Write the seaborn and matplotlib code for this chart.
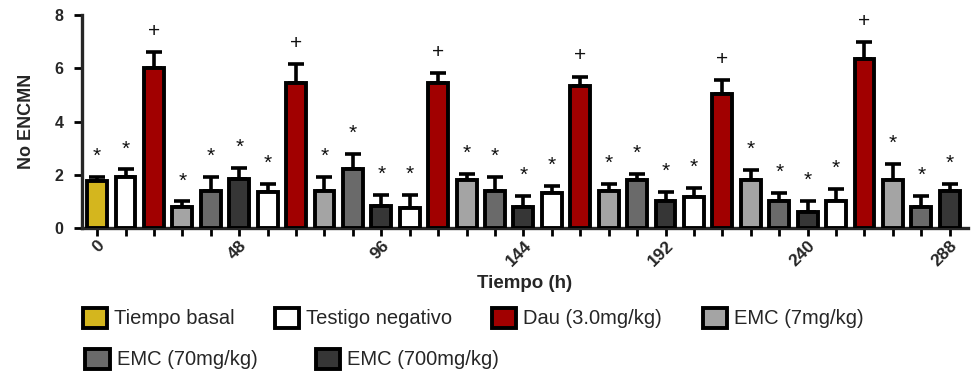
import matplotlib
matplotlib.use("Agg")
import matplotlib.pyplot as plt
import seaborn as sns
import pandas as pd
import numpy as np
from matplotlib.patches import Patch

# group of each bar, left to right
groups = ["basal", "testigo", "dau", "emc7", "emc70", "emc700",
          "testigo", "dau", "emc7", "emc70", "emc700",
          "testigo", "dau", "emc7", "emc70", "emc700",
          "testigo", "dau", "emc7", "emc70", "emc700",
          "testigo", "dau", "emc7", "emc70", "emc700",
          "testigo", "dau", "emc7", "emc70", "emc700"]
means = [1.75, 1.9, 6.0, 0.81, 1.4, 1.84,
         1.35, 5.44, 1.4, 2.21, 0.84,
         0.75, 5.44, 1.81, 1.41, 0.81,
         1.31, 5.34, 1.41, 1.81, 1.02,
         1.15, 5.02, 1.81, 1.02, 0.62,
         1.02, 6.34, 1.81, 0.81, 1.41]
errs = [0.18, 0.3, 0.62, 0.19, 0.51, 0.41,
        0.3, 0.71, 0.51, 0.58, 0.41,
        0.5, 0.37, 0.21, 0.51, 0.38,
        0.28, 0.35, 0.25, 0.21, 0.35,
        0.35, 0.54, 0.38, 0.31, 0.4,
        0.45, 0.63, 0.59, 0.38, 0.24]
time_labels = ["0", "48", "96", "144", "192", "240", "288"]
label_every = 5

group_names = ["basal", "testigo", "dau", "emc7", "emc70", "emc700"]
legend_labels = ["Tiempo basal", "Testigo negativo", "Dau (3.0mg/kg)",
                 "EMC (7mg/kg)", "EMC (70mg/kg)", "EMC (700mg/kg)"]
colors = ["#d4b61e", "#ffffff", "#a10000", "#a4a4a4", "#6a6a6a", "#363636"]
palette = dict(zip(group_names, colors))

sns.set_style("ticks")
plt.rcParams['font.family'] = ['Liberation Sans', 'DejaVu Sans']

df = pd.DataFrame({"pos": range(len(means)), "val": means, "grp": groups})

fig = plt.figure(figsize=(9.8, 3.84), dpi=100)
ax = fig.add_axes([0.0837, 0.406, 0.904, 0.555])

sns.barplot(data=df, x="pos", y="val", hue="grp", palette=palette, dodge=False,
            errorbar=None, width=0.7, edgecolor="black", linewidth=2.8,
            saturation=1, legend=False, ax=ax, zorder=3)

x = np.arange(len(means))
ax.errorbar(x, means, yerr=[np.zeros(len(errs)), errs], fmt="none", ecolor="black",
            elinewidth=2.6, capsize=6, capthick=2.6, zorder=2)

for xi, m, e, g in zip(x, means, errs, groups):
    sym = "+" if g == "dau" else "*"
    ax.annotate(sym, (xi, m + e), xytext=(0, 8), textcoords="offset points",
                ha="center", va="bottom", fontsize=15, color="#111111")

ax.set_xlim(-0.53, 30.64)
ax.set_ylim(0, 8)
ax.set_yticks([0, 2, 4, 6, 8])
ax.set_xticks(x)
ax.set_xticklabels([time_labels[i // label_every] if i % label_every == 0 else "" for i in x],
                   rotation=45, ha="right", rotation_mode="anchor", fontweight="bold", fontsize=12.5)
for lab in ax.get_yticklabels():
    lab.set_fontweight("bold")
    lab.set_fontsize(11.5)
ax.tick_params(axis="both", width=2, length=5.5, color="black")
ax.tick_params(axis="x", pad=1.5)
ax.tick_params(axis="y", pad=8)
for s in ["left", "bottom"]:
    ax.spines[s].set_linewidth(2.4)
sns.despine(ax=ax)
ax.set_xlabel("Tiempo (h)", fontweight="bold", fontsize=13.5, labelpad=4)
ax.set_ylabel("No ENCMN", fontweight="bold", fontsize=13, labelpad=14)

handles = [Patch(facecolor=c, edgecolor="black", linewidth=2.8) for c in colors]
leg_kw = dict(frameon=False, fontsize=14.5, handlelength=1.2, handleheight=1.15,
              handletextpad=0.35, borderaxespad=0)
fig.legend(handles[:4], legend_labels[:4], ncol=4, loc="center left",
           bbox_to_anchor=(0.076, 0.172), columnspacing=2.0, **leg_kw)
fig.legend(handles[4:], legend_labels[4:], ncol=2, loc="center left",
           bbox_to_anchor=(0.079, 0.065), columnspacing=2.9, **leg_kw)

fig.savefig("out.png", dpi=100)
